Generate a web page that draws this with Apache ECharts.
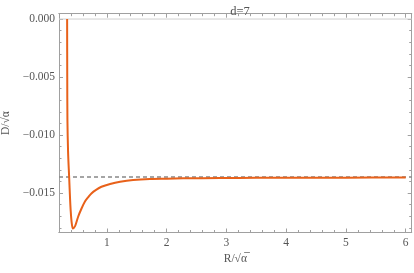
<!DOCTYPE html>
<html><head><meta charset="utf-8">
<script src="https://cdn.jsdelivr.net/npm/echarts@6/dist/echarts.min.js"></script>
<style>html,body{margin:0;padding:0;background:#fff}#c{width:414px;height:273px}</style>
</head><body><div id="c"></div>
<script>
// Curve D/sqrt(alpha) vs R/sqrt(alpha)
const curveX = [0.336, 0.338, 0.341, 0.352, 0.370, 0.385, 0.395, 0.411, 0.431, 0.445, 0.470, 0.520, 0.575, 0.632, 0.690, 0.742, 0.820, 0.910, 1.055, 1.222, 1.440, 1.720, 2.000, 2.276, 2.895, 3.500, 4.000, 5.000, 6.000];
const curveY = [0.0000, -0.0050, -0.0087, -0.0115, -0.01365, -0.0155, -0.01647, -0.0175, -0.01806, -0.01802, -0.01784, -0.01704, -0.01635, -0.01575, -0.01535, -0.01503, -0.01472, -0.01446, -0.01422, -0.01403, -0.01388, -0.01379, -0.01376, -0.01373, -0.01371, -0.01369, -0.01368, -0.01367, -0.01366];
const asymptoteX = [0.2, 6.1];
const asymptoteY = [-0.01362, -0.01362];
const zeroLineX = [0.2, 6.1];
const zeroLineY = [0, 0];
const xMajorTicks = [1, 2, 3, 4, 5, 6];
const xMinorTicks = [0.4, 0.6, 0.8, 1.2, 1.4, 1.6, 1.8, 2.2, 2.4, 2.6, 2.8, 3.2, 3.4, 3.6, 3.8, 4.2, 4.4, 4.6, 4.8, 5.2, 5.4, 5.6, 5.8, 6.0];
const yMajorTicks = [0, -0.005, -0.010, -0.015];
const yMinorTicks = [-0.001, -0.002, -0.003, -0.004, -0.006, -0.007, -0.008, -0.009, -0.011, -0.012, -0.013, -0.014, -0.016, -0.017, -0.018];
const titleText = 'd=7';
const xName = 'R/√α\u0305';
const yName = 'D/√α\u0305';

const X_MIN = 0.2, X_MAX = 6.1, Y_MIN = -0.0184, Y_MAX = 0.00046;
const FONT = 'Liberation Serif';
const frameColor = '#a0a0a0';
const textColor = '#555';
const FS = 11.5;

function xAxisDef(pos, ticks, len, labels) {
  return {
    type: 'value', position: pos, min: X_MIN, max: X_MAX,
    axisLine: { show: true, onZero: false, lineStyle: { color: frameColor, width: 1 } },
    axisTick: { show: true, inside: true, length: len, customValues: ticks, lineStyle: { color: frameColor } },
    axisLabel: labels ? { show: true, customValues: ticks, margin: 4, color: textColor, fontFamily: FONT, fontSize: FS,
      formatter: v => String(v) } : { show: false },
    splitLine: { show: false }, minorTick: { show: false }
  };
}
function yAxisDef(pos, ticks, len, labels) {
  return {
    type: 'value', position: pos, min: Y_MIN, max: Y_MAX,
    axisLine: { show: true, onZero: false, lineStyle: { color: frameColor, width: 1 } },
    axisTick: { show: true, inside: true, length: len, customValues: ticks, lineStyle: { color: frameColor } },
    axisLabel: labels ? { show: true, customValues: ticks, margin: 4, color: textColor, fontFamily: FONT, fontSize: FS,
      formatter: v => Math.abs(v) < 1e-9 ? '0.000' : '\u2212' + Math.abs(v).toFixed(3) } : { show: false },
    splitLine: { show: false }, minorTick: { show: false }
  };
}

const xAxes = [xAxisDef('bottom', xMajorTicks, 4, true), xAxisDef('bottom', xMinorTicks, 2.5, false),
               xAxisDef('top', xMajorTicks, 4, false), xAxisDef('top', xMinorTicks, 2.5, false)];
xAxes[0].name = xName; xAxes[0].nameLocation = 'middle'; xAxes[0].nameGap = 15;
xAxes[0].nameTextStyle = { color: textColor, fontFamily: FONT, fontSize: FS };
const yAxes = [yAxisDef('left', yMajorTicks, 4, true), yAxisDef('left', yMinorTicks, 2.5, false),
               yAxisDef('right', yMajorTicks, 4, false), yAxisDef('right', yMinorTicks, 2.5, false)];
yAxes[0].name = yName; yAxes[0].nameLocation = 'middle'; yAxes[0].nameGap = 42; yAxes[0].nameRotate = 90;
yAxes[0].nameTextStyle = { color: textColor, fontFamily: FONT, fontSize: FS };

const chart = echarts.init(document.getElementById('c'), null, { renderer: 'canvas' });
chart.setOption({
  animation: false,
  backgroundColor: '#fff',
  title: { text: titleText, left: 235, top: 0, textAlign: 'center',
    textStyle: { color: textColor, fontFamily: FONT, fontSize: 12.5, fontWeight: 'normal' } },
  grid: { left: 59, right: 2.3, top: 13.7, bottom: 40.5, containLabel: false, outerBoundsMode: 'none' },
  xAxis: xAxes,
  yAxis: yAxes,
  series: [
    { type: 'line', xAxisIndex: 0, yAxisIndex: 0, data: zeroLineX.map((x, i) => [x, zeroLineY[i]]),
      showSymbol: false, silent: true, lineStyle: { color: '#d0d0d0', width: 1 }, z: 1 },
    { type: 'line', xAxisIndex: 0, yAxisIndex: 0, data: asymptoteX.map((x, i) => [x, asymptoteY[i]]),
      showSymbol: false, silent: true, lineStyle: { color: '#888', width: 1.6, type: [4, 3] }, z: 2 },
    { type: 'line', xAxisIndex: 0, yAxisIndex: 0, data: curveX.map((x, i) => [x, curveY[i]]),
      showSymbol: false, smooth: 0.3, clip: true, lineStyle: { color: '#e8611a', width: 2 }, z: 3 }
  ]
});
</script></body></html>
